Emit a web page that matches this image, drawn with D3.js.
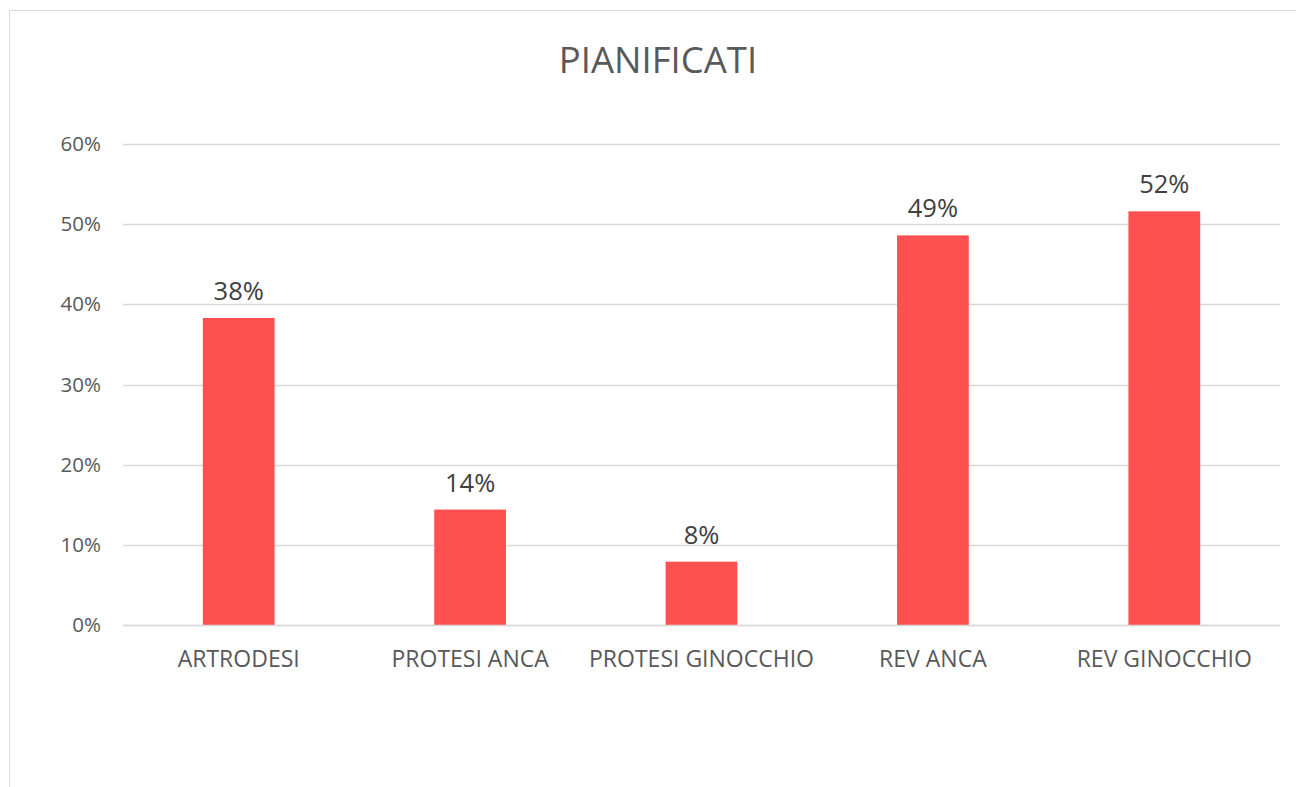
<!DOCTYPE html>
<html>
<head>
<meta charset="utf-8">
<script src="https://cdn.jsdelivr.net/npm/d3@7"></script>
<style>
  body { margin: 0; background: #fff; }
  text { font-family: "Open Sans", "Noto Sans", sans-serif; }
</style>
</head>
<body>
<div id="chart"></div>
<script>
const categories = ["ARTRODESI", "PROTESI ANCA", "PROTESI GINOCCHIO", "REV ANCA", "REV GINOCCHIO"];
const values = [0.383, 0.144, 0.079, 0.486, 0.516];
const labels = ["38%", "14%", "8%", "49%", "52%"];
const ticks = [0, 0.1, 0.2, 0.3, 0.4, 0.5, 0.6];

const width = 1296;
const height = 787;

const svg = d3.select("#chart")
    .append("svg")
    .attr("width", width)
    .attr("height", height);

// chart frame (only top and left are visible in the shot)
svg.append("rect")
    .attr("x", 9.5)
    .attr("y", 10.5)
    .attr("width", 1400)
    .attr("height", 900)
    .attr("fill", "#fff")
    .attr("stroke", "#d9d9d9");

const x = d3.scaleBand()
    .domain(categories)
    .range([123, 1280])
    .paddingInner(0.69)
    .paddingOuter(0.345);

const y = d3.scaleLinear()
    .domain([0, 0.6])
    .range([625, 144]);

// gridlines
svg.append("g")
    .selectAll("line")
    .data(ticks)
    .enter()
    .append("line")
    .attr("x1", 123)
    .attr("x2", 1280)
    .attr("y1", d => Math.round(y(d)) + 0.5)
    .attr("y2", d => Math.round(y(d)) + 0.5)
    .attr("stroke", "#d9d9d9")
    .attr("stroke-width", 1.5);

// y axis labels
const yAxis = d3.axisLeft(y)
    .tickValues(ticks)
    .tickFormat(d3.format(".0%"))
    .tickSize(0)
    .tickPadding(0);

svg.append("g")
    .attr("transform", "translate(101,0)")
    .call(yAxis)
    .call(g => g.select(".domain").remove())
    .selectAll("text")
    .attr("fill", "#595959")
    .attr("font-size", "20.5px");

// bars
svg.append("g")
    .selectAll("rect")
    .data(values)
    .enter()
    .append("rect")
    .attr("x", (d, i) => x(categories[i]))
    .attr("y", d => y(d))
    .attr("width", x.bandwidth())
    .attr("height", d => y(0) - y(d))
    .attr("fill", "#ff5050");

// baseline drawn over bar bottoms
svg.append("line")
    .attr("x1", 123)
    .attr("x2", 1280)
    .attr("y1", Math.round(y(0)) + 0.5)
    .attr("y2", Math.round(y(0)) + 0.5)
    .attr("stroke", "#d9d9d9")
    .attr("stroke-width", 1.5);

// data labels
svg.append("g")
    .selectAll("text")
    .data(values)
    .enter()
    .append("text")
    .attr("x", (d, i) => x(categories[i]) + x.bandwidth() / 2)
    .attr("y", d => y(d) - 18)
    .attr("text-anchor", "middle")
    .attr("fill", "#404040")
    .attr("font-size", "25.5px")
    .text((d, i) => labels[i]);

// category labels
const xAxis = d3.axisBottom(x)
    .tickSize(0)
    .tickPadding(0);

svg.append("g")
    .attr("transform", "translate(0,651)")
    .call(xAxis)
    .call(g => g.select(".domain").remove())
    .selectAll("text")
    .attr("fill", "#595959")
    .attr("font-size", "23px");

// title
svg.append("text")
    .attr("x", 658)
    .attr("y", 73)
    .attr("text-anchor", "middle")
    .attr("fill", "#595959")
    .attr("font-size", "36.5px")
    .text("PIANIFICATI");
</script>
</body>
</html>
